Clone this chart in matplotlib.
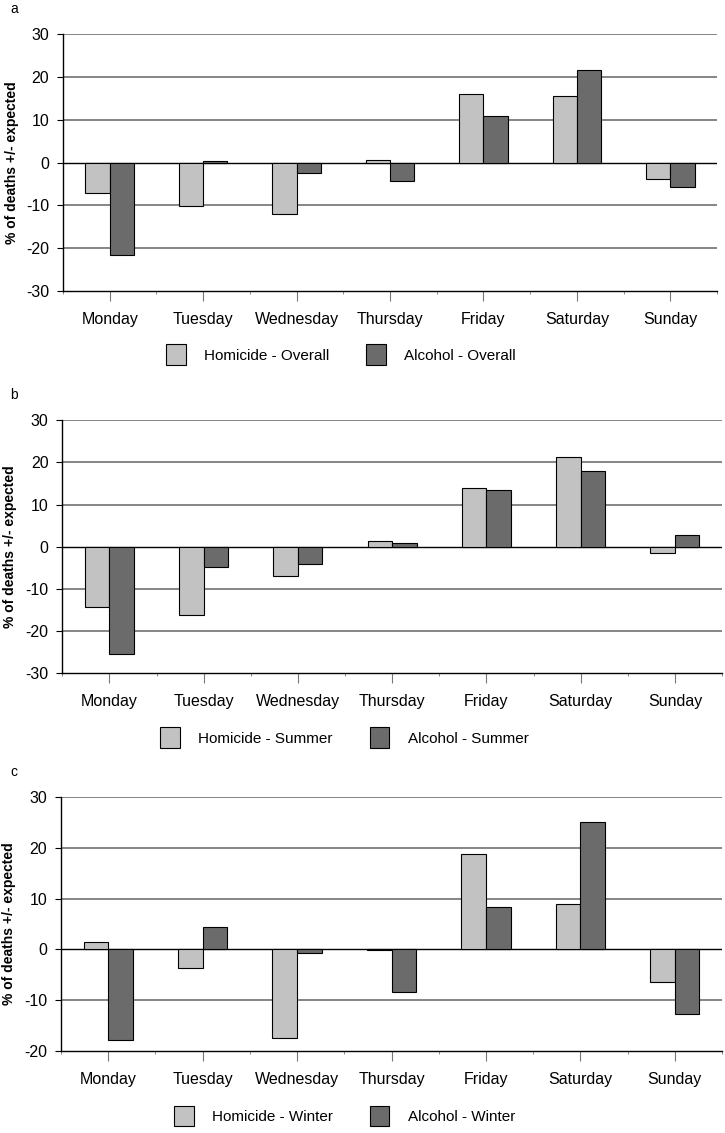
import matplotlib
matplotlib.use("Agg")
import matplotlib.pyplot as plt
import numpy as np

plt.rcParams['font.family'] = ['Liberation Sans', 'DejaVu Sans']
plt.rcParams['axes.unicode_minus'] = False

# Data
days = ["Monday", "Tuesday", "Wednesday", "Thursday", "Friday", "Saturday", "Sunday"]

homicide_overall = [-7.0, -10.1, -12.0, 0.7, 16.1, 15.6, -3.8]
alcohol_overall = [-21.5, 0.4, -2.4, -4.3, 10.9, 21.6, -5.7]

homicide_summer = [-14.3, -16.3, -7.0, 1.4, 14.0, 21.3, -1.4]
alcohol_summer = [-25.5, -4.8, -4.2, 0.9, 13.5, 17.9, 2.8]

homicide_winter = [1.4, -3.7, -17.4, -0.2, 18.7, 8.9, -6.5]
alcohol_winter = [-17.8, 4.5, -0.8, -8.3, 8.4, 25.0, -12.8]

panels = [
    ("a", homicide_overall, alcohol_overall, "Homicide - Overall", "Alcohol - Overall", (-30, 30),
     [0.087, 0.743, 0.902, 0.227], (0.47, 0.687)),
    ("b", homicide_summer, alcohol_summer, "Homicide - Summer", "Alcohol - Summer", (-30, 30),
     [0.086, 0.406, 0.910, 0.223], (0.475, 0.349)),
    ("c", homicide_winter, alcohol_winter, "Homicide - Winter", "Alcohol - Winter", (-20, 30),
     [0.084, 0.0724, 0.912, 0.2242], (0.475, 0.015)),
]

light = "#c2c2c2"
dark = "#6b6b6b"
width = 0.26

fig = plt.figure(figsize=(7.25, 11.33), dpi=100)

x = np.arange(len(days))
for letter, hom, alc, hlabel, alabel, ylim, pos, legpos in panels:
    ax = fig.add_axes(pos)
    # horizontal gridlines, zero line in black
    for yv in range(ylim[0], ylim[1] + 1, 10):
        if yv == 0:
            ax.axhline(yv, color="black", lw=1.0, zorder=1)
        elif yv != ylim[0]:
            ax.axhline(yv, color="#858585", lw=1.4, zorder=1)
    b1 = ax.bar(x - width / 2, hom, width, color=light, edgecolor="black", linewidth=0.8,
                label=hlabel, zorder=2)
    b2 = ax.bar(x + width / 2, alc, width, color=dark, edgecolor="black", linewidth=0.8,
                label=alabel, zorder=2)
    ax.set_xlim(-0.5, len(days) - 0.5)
    ax.set_ylim(*ylim)
    ax.set_yticks(range(ylim[0], ylim[1] + 1, 10))
    ax.set_xticks(x)
    ax.set_xticklabels(days, fontsize=11.5)
    ax.set_xticks(np.arange(-0.5, len(days), 1.0), minor=True)
    ax.tick_params(axis="x", which="major", length=7, color="#777777", pad=8)
    ax.tick_params(axis="x", which="minor", length=2, color="#777777")
    ax.tick_params(axis="y", length=4, pad=6, labelsize=11.5)
    for s in ["top", "right"]:
        ax.spines[s].set_visible(False)
    ax.spines["left"].set_linewidth(1.0)
    ax.spines["bottom"].set_linewidth(1.0)
    ax.set_ylabel("% of deaths +/- expected", fontsize=10, fontweight="bold", labelpad=2)
    ax.yaxis.set_label_coords(-0.068, 0.5)
    fig.text(0.014, pos[1] + pos[3] + 0.022, letter, fontsize=10, va="center")
    fig.legend(handles=[b1, b2], loc="center", bbox_to_anchor=legpos, ncol=2, frameon=False,
               fontsize=11, handlelength=1.3, handleheight=1.7, handletextpad=1.2,
               columnspacing=2.4)

fig.savefig("out.png", dpi=100)
